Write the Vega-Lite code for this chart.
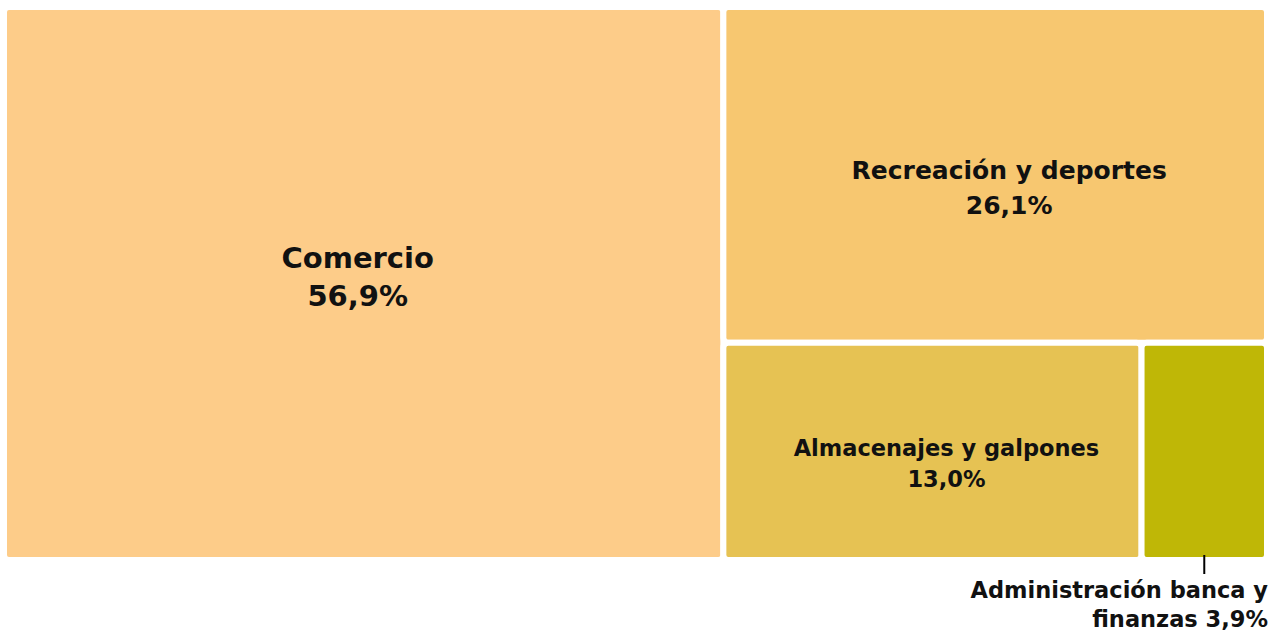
{
  "$schema": "https://vega.github.io/schema/vega-lite/v6.json",
  "width": 1263,
  "height": 553,
  "autosize": "none",
  "padding": {"left": 4, "top": 7, "right": 5, "bottom": 72},
  "background": "white",
  "config": {"view": {"stroke": null}, "text": {"font": "DejaVu Sans", "fontWeight": "bold", "color": "#111111"}},
  "data": {
    "values": [
      {"sector": "Comercio", "pct": 56.9},
      {"sector": "Recreación y deportes", "pct": 26.1},
      {"sector": "Almacenajes y galpones", "pct": 13.0},
      {"sector": "Administración banca y finanzas", "pct": 3.9}
    ]
  },
  "transform": [
    {"window": [{"op": "row_number", "as": "rank"}, {"op": "nth_value", "param": 2, "field": "pct", "as": "v2"}], "sort": [{"field": "pct", "order": "descending"}], "frame": [null, null]},
    {"window": [{"op": "sum", "field": "pct", "as": "c1"}], "sort": [{"field": "pct", "order": "descending"}], "frame": [null, 0]},
    {"joinaggregate": [{"op": "sum", "field": "pct", "as": "total"}, {"op": "max", "field": "pct", "as": "v1"}]},
    {"calculate": "datum.c1 - datum.pct", "as": "c0"},
    {"calculate": "(datum.rank == 1 ? 0 : datum.rank == 2 ? datum.v1 : datum.v1 + (datum.c0 - datum.v1 - datum.v2) / (datum.total - datum.v1 - datum.v2) * (datum.total - datum.v1)) / datum.total", "as": "x0"},
    {"calculate": "(datum.rank == 1 ? datum.v1 : datum.rank == 2 ? datum.total : datum.v1 + (datum.c1 - datum.v1 - datum.v2) / (datum.total - datum.v1 - datum.v2) * (datum.total - datum.v1)) / datum.total", "as": "x1"},
    {"calculate": "datum.rank <= 2 ? 0 : datum.v2 / (datum.total - datum.v1)", "as": "y0"},
    {"calculate": "datum.rank == 2 ? datum.v2 / (datum.total - datum.v1) : 1", "as": "y1"},
    {"calculate": "(datum.x0 + datum.x1) / 2", "as": "xc"},
    {"calculate": "(datum.y0 + datum.y1) / 2", "as": "yc"},
    {"calculate": "replace(format(datum.pct, '.1f'), '.', ',') + '%'", "as": "pctLabel"},
    {"calculate": "[datum.sector, datum.pctLabel]", "as": "lab"},
    {"calculate": "[slice(datum.sector, 0, 22), slice(datum.sector, 23) + ' ' + datum.pctLabel]", "as": "labOut"}
  ],
  "encoding": {
    "x": {"field": "x0", "type": "quantitative", "scale": {"domain": [0, 1], "nice": false, "zero": false}, "axis": null},
    "y": {"field": "y0", "type": "quantitative", "scale": {"domain": [0, 1], "nice": false, "zero": false, "reverse": true}, "axis": null}
  },
  "layer": [
    {
      "mark": {"type": "rect", "stroke": "white", "strokeWidth": 6, "cornerRadius": 5},
      "encoding": {
        "x2": {"field": "x1"},
        "y2": {"field": "y1"},
        "color": {
          "field": "sector",
          "type": "nominal",
          "scale": {
            "domain": ["Comercio", "Recreación y deportes", "Almacenajes y galpones", "Administración banca y finanzas"],
            "range": ["#FDCC89", "#F7C770", "#E6C253", "#BFB706"]
          },
          "legend": null
        }
      }
    },
    {
      "transform": [{"filter": "datum.rank == 1"}],
      "mark": {"type": "text", "fontSize": 29, "lineHeight": 38, "baseline": "middle", "align": "center", "dx": -6, "dy": -25},
      "encoding": {
        "x": {"field": "xc", "type": "quantitative"},
        "y": {"field": "yc", "type": "quantitative"},
        "text": {"field": "lab"}
      }
    },
    {
      "transform": [{"filter": "datum.rank == 2"}],
      "mark": {"type": "text", "fontSize": 25, "lineHeight": 35, "baseline": "middle", "align": "center", "dx": 14, "dy": -4},
      "encoding": {
        "x": {"field": "xc", "type": "quantitative"},
        "y": {"field": "yc", "type": "quantitative"},
        "text": {"field": "lab"}
      }
    },
    {
      "transform": [{"filter": "datum.rank == 3"}],
      "mark": {"type": "text", "fontSize": 22.5, "lineHeight": 31, "baseline": "middle", "align": "center", "dx": 14, "dy": -2},
      "encoding": {
        "x": {"field": "xc", "type": "quantitative"},
        "y": {"field": "yc", "type": "quantitative"},
        "text": {"field": "lab"}
      }
    },
    {
      "transform": [{"filter": "datum.rank == 4"}],
      "mark": {"type": "rule", "color": "#000000", "strokeWidth": 2, "yOffset": -5, "y2Offset": 14},
      "encoding": {
        "x": {"field": "xc", "type": "quantitative"},
        "y": {"field": "y1", "type": "quantitative"},
        "y2": {"field": "y1"}
      }
    },
    {
      "transform": [{"filter": "datum.rank == 4"}],
      "mark": {"type": "text", "fontSize": 22.5, "lineHeight": 29, "baseline": "middle", "align": "right", "dx": 1, "dy": 31},
      "encoding": {
        "x": {"field": "x1", "type": "quantitative"},
        "y": {"field": "y1", "type": "quantitative"},
        "text": {"field": "labOut"}
      }
    }
  ]
}
